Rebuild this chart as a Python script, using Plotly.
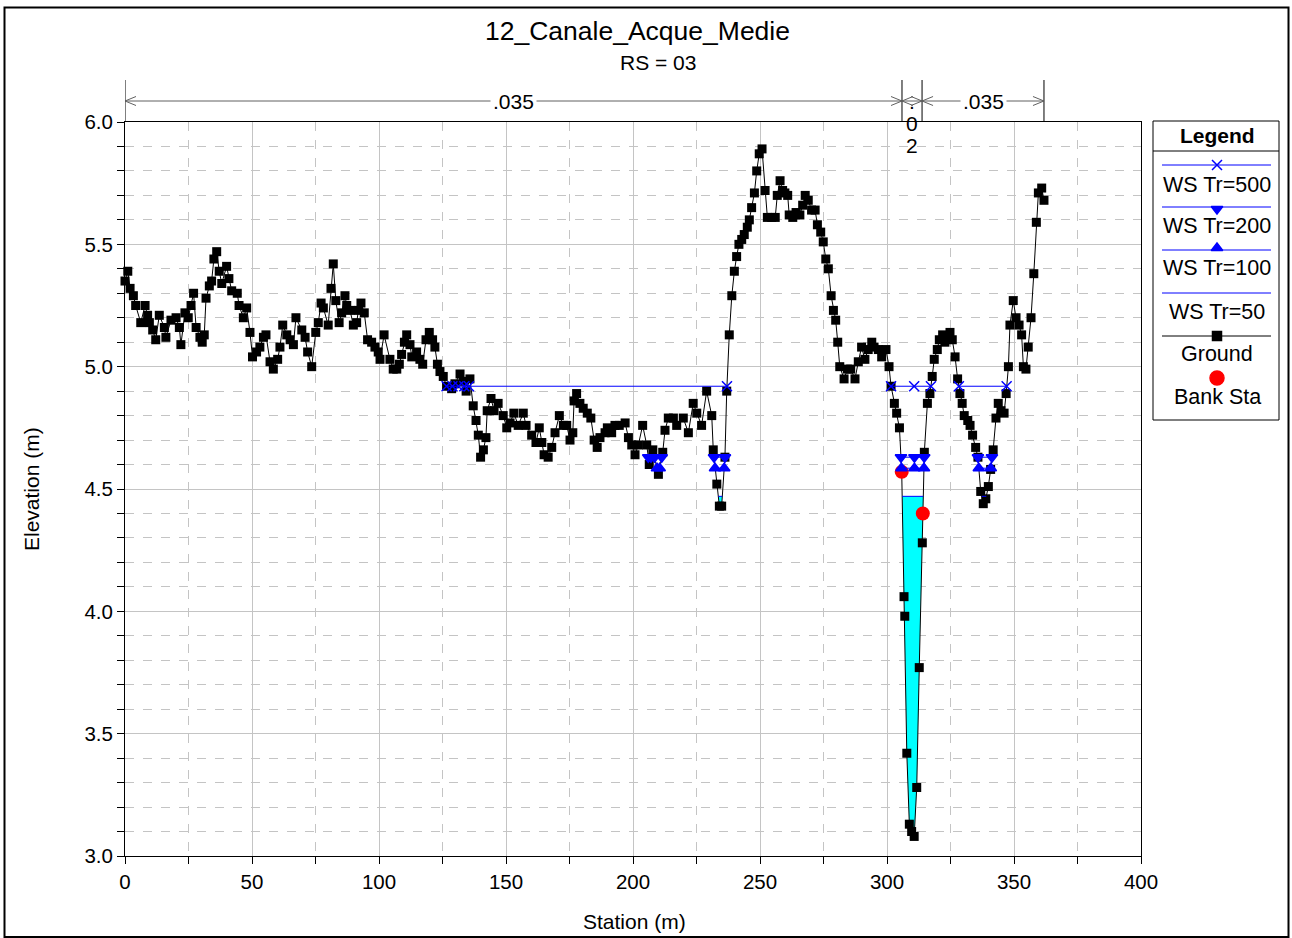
import plotly.graph_objects as go

# ---------------- data ----------------
station = [
    0.0, 1.1, 2.0, 3.3, 4.2, 6.2, 7.9, 8.9, 9.6, 10.9, 12.1, 13.5, 15.5, 16.1, 18.1, 20.1, 21.4, 22.0,
    23.6, 24.9, 26.0, 27.0, 28.0, 29.5, 30.4, 31.2, 31.9, 33.2, 34.1, 35.0, 36.1, 37.1, 38.1, 40.0,
    40.9, 42.0, 44.2, 44.9, 46.6, 47.9, 49.2, 50.2,
    51.8, 53.1, 54.5, 55.5, 57.1, 58.4, 60.1, 61.0, 62.1, 63.7, 65.0, 66.3, 67.3, 69.6, 70.9, 71.9,
    73.5, 75.1, 76.1, 77.2, 78.1, 80.0, 81.1, 82.0, 83.0, 84.3, 85.3, 86.6, 87.3, 88.6, 89.9, 91.2,
    91.9, 92.9, 94.2, 95.5, 97.1, 98.4, 99.7, 100.4, 102.0,
    104.3, 105.6, 107.0, 108.0, 108.9, 110.0, 110.9, 112.2, 112.9, 114.8, 116.1, 117.2, 118.5, 119.8,
    121.1, 122.0, 123.0, 124.0, 125.3, 126.6, 128.6, 129.9, 131.9, 133.2, 134.3, 135.8, 137.1, 138.2,
    139.1, 140.0, 141.1, 142.1, 142.6, 144.1, 145.3, 146.9, 148.9, 150.3,
    151.6, 153.1, 154.8, 156.8, 157.9, 160.1, 161.8, 163.1, 164.1, 165.0, 166.6, 168.0, 169.3, 171.0,
    172.6, 173.9, 175.2, 176.3, 176.8, 177.8, 179.1, 180.4, 182.0, 183.4, 184.7, 185.9, 187.0, 189.0,
    189.9, 191.6, 192.9, 194.6, 196.9, 198.2, 199.5, 200.8, 202.1, 203.8, 205.4, 206.4, 207.8, 210.0,
    211.7, 212.6, 213.9, 215.9, 217.2,
    219.8, 221.8, 223.7, 225.1, 227.0, 229.0, 231.0, 231.6, 233.0, 234.0, 234.9, 236.2, 236.9,
    237.9, 238.9, 239.9, 240.8, 241.7, 242.8, 243.8, 245.0, 245.8, 246.7, 247.8, 248.7, 249.7, 250.8,
    252.0, 252.9, 254.6, 256.0, 256.8, 257.9, 258.9, 259.8, 260.9, 261.5, 262.9, 264.2, 265.7, 266.8,
    267.8, 269.0, 270.3, 271.7, 272.6, 273.9, 274.9, 275.9, 276.9, 278.0, 278.9, 279.8, 280.6,
    281.4, 283.1, 284.4, 285.7, 287.4, 288.7, 290.0, 291.3, 292.6, 294.0, 294.9, 296.6, 297.9, 299.6,
    300.8, 301.6, 302.9, 303.8, 304.9, 305.8, 306.7, 307.0, 307.8, 308.8, 309.7, 310.7, 311.7, 312.7,
    313.9, 314.1, 314.7,
    315.9, 316.9, 317.8, 318.6, 319.8, 320.6, 321.9, 322.8, 323.7, 324.8, 325.7, 326.8, 327.8, 328.7,
    329.6, 330.4, 331.8, 332.7, 333.7, 334.9, 335.8, 336.9, 337.9, 338.9, 339.9, 340.8, 341.8, 342.9,
    343.8, 344.9, 346.1, 346.9, 347.8, 348.4, 349.7, 350.8, 352.0, 353.0, 353.7, 354.7, 355.6, 356.7,
    357.8, 358.8, 359.6, 360.9, 361.8,
]
elevation = [
    5.35, 5.39, 5.32, 5.29, 5.25, 5.18, 5.25, 5.21, 5.18, 5.15, 5.11, 5.21, 5.16, 5.12, 5.19, 5.20, 5.16, 5.09,
    5.22, 5.20, 5.25, 5.30, 5.16, 5.12, 5.10, 5.13, 5.28, 5.33, 5.35, 5.44, 5.47, 5.39, 5.34, 5.41,
    5.36, 5.31, 5.30, 5.25, 5.20, 5.24, 5.14, 5.04,
    5.06, 5.08, 5.12, 5.13, 5.02, 4.99, 5.03, 5.08, 5.17, 5.13, 5.11, 5.09, 5.20, 5.15, 5.12, 5.06,
    5.00, 5.14, 5.18, 5.26, 5.24, 5.17, 5.32, 5.42, 5.27, 5.18, 5.22, 5.29, 5.25, 5.23, 5.17, 5.18,
    5.23, 5.26, 5.22, 5.11, 5.10, 5.08, 5.06, 5.03, 5.13,
    5.03, 4.99, 4.99, 5.01, 5.05, 5.10, 5.13, 5.09, 5.04, 5.06, 5.03, 5.01, 5.11, 5.14,
    5.11, 5.08, 5.01, 4.98, 4.96, 4.92, 4.91, 4.93, 4.97, 4.94, 4.90, 4.95, 4.84, 4.78,
    4.72, 4.63, 4.66, 4.71, 4.82, 4.87, 4.82, 4.85, 4.80, 4.75,
    4.77, 4.81, 4.76, 4.81, 4.76, 4.72, 4.69, 4.75, 4.69, 4.64, 4.63, 4.67, 4.73, 4.80,
    4.76, 4.76, 4.70, 4.73, 4.86, 4.89, 4.85, 4.83, 4.81, 4.79, 4.70, 4.67, 4.71, 4.73,
    4.75, 4.73, 4.76, 4.76, 4.77, 4.71, 4.68, 4.64, 4.68, 4.76, 4.68, 4.60, 4.66, 4.56,
    4.65, 4.74, 4.79, 4.79, 4.76,
    4.79, 4.73, 4.85, 4.81, 4.76, 4.90, 4.80, 4.66, 4.52, 4.43, 4.43, 4.63, 4.90,
    5.13, 5.29, 5.39, 5.45, 5.50, 5.52, 5.54, 5.57, 5.60, 5.65, 5.71, 5.80, 5.87, 5.89,
    5.72, 5.61, 5.61, 5.61, 5.70, 5.76, 5.72, 5.71, 5.70, 5.62, 5.61, 5.63, 5.62, 5.66,
    5.70, 5.68, 5.64, 5.64, 5.58, 5.55, 5.51, 5.44, 5.40, 5.29, 5.23, 5.19, 5.10,
    5.00, 4.95, 4.99, 4.99, 4.95, 5.02, 5.08, 5.03, 5.07, 5.10, 5.08, 5.07, 5.04, 5.07,
    5.00, 4.92, 4.85, 4.81, 4.75, 4.57, 4.06, 3.98, 3.42, 3.13, 3.10, 3.08, 3.28, 3.77,
    4.28, 4.40, 4.65,
    4.85, 4.89, 4.96, 5.03, 5.07, 5.11, 5.13, 5.10, 5.12, 5.14, 5.11, 5.04, 4.95, 4.89,
    4.85, 4.80, 4.78, 4.76, 4.72, 4.67, 4.63, 4.49, 4.44, 4.46, 4.51, 4.58, 4.66, 4.79,
    4.85, 4.82, 4.81, 4.89, 5.00, 5.17, 5.27, 5.20, 5.17, 5.13, 5.00, 4.99, 5.08, 5.20,
    5.38, 5.59, 5.71, 5.73, 5.68,
]

bank_station = [305.8, 314.1]
bank_elevation = [4.57, 4.40]

n_stations = [0.0, 305.9, 313.8, 361.8]
n_values = [".035", ".02", ".035"]

ws500_level = 4.92
ws500_start = [126.5, 301.6, 328.3]
ws500_end = [237.0, 317.3, 347.1]
ws500_marks = [126.6, 128.9, 131.3, 133.6, 135.4, 237.0, 301.6, 310.7, 317.3, 328.3, 347.1]

ws200_level = 4.63
ws200_start = [206.0, 208.5, 231.9, 305.5, 335.8]
ws200_end = [207.1, 211.3, 236.2, 314.65, 341.3]
ws200_marks = [206.0, 207.1, 208.5, 211.3, 231.9, 236.2, 305.5, 310.8, 314.65, 335.8, 341.3]

ws100_level = 4.585
ws100_start = [209.45, 232.3, 305.7, 336.15]
ws100_end = [210.5, 235.9, 314.55, 340.85]
ws100_marks = [209.45, 210.5, 232.3, 235.9, 305.7, 310.8, 314.55, 336.15, 340.85]

ws50_level = 4.47

x_ticks = [0, 50, 100, 150, 200, 250, 300, 350, 400]
y_ticks = [3.0, 3.5, 4.0, 4.5, 5.0, 5.5, 6.0]

title_text = "12_Canale_Acque_Medie"
subtitle_text = "RS = 03"
x_title = "Station (m)"
y_title = "Elevation (m)"
legend_title = "Legend"
legend_labels = ["WS Tr=500", "WS Tr=200", "WS Tr=100", "WS Tr=50", "Ground", "Bank Sta"]

# ---------------- geometry ----------------
W, H = 1292, 938
PX0, PX1, PY0, PY1 = 125, 1141, 122, 856
XMIN, XMAX, YMIN, YMAX = 0, 400, 3.0, 6.0
xscale = (PX1 - PX0) / (XMAX - XMIN)  # pixels per metre

FONT = "Liberation Sans, Arial, Helvetica, sans-serif"
BLUE = "#0000FF"
GRID = "#c4c4c4"


def seg_xy(starts, ends, level):
    xs, ys = [], []
    for a, b in zip(starts, ends):
        xs += [a, b, None]
        ys += [level, level, None]
    return xs, ys


def wet_polygons(xs, ys, level):
    polys, cur = [], None
    for i in range(len(xs)):
        x, y = xs[i], ys[i]
        if y < level:
            if cur is None:
                if i > 0:
                    x0, y0 = xs[i - 1], ys[i - 1]
                    xi = x0 + (level - y0) * (x - x0) / (y - y0)
                else:
                    xi = x
                cur = [(xi, level)]
            cur.append((x, y))
        elif cur is not None:
            x0, y0 = xs[i - 1], ys[i - 1]
            xi = x0 + (level - y0) * (x - x0) / (y - y0)
            cur.append((xi, level))
            polys.append(cur)
            cur = None
    return polys


fig = go.Figure()

# Tr=50 fill
polys = wet_polygons(station, elevation, ws50_level)
fx, fy, lx, ly = [], [], [], []
for p in polys:
    fx += [q[0] for q in p] + [p[0][0], None]
    fy += [q[1] for q in p] + [p[0][1], None]
    lx += [p[0][0], p[-1][0], None]
    ly += [ws50_level, ws50_level, None]
fig.add_trace(go.Scatter(x=fx, y=fy, mode="lines", fill="toself", fillcolor="#00FFFF",
                         line=dict(width=0, color="#00FFFF"), hoverinfo="skip", showlegend=False))

# Ground
fig.add_trace(go.Scatter(x=station, y=elevation, mode="lines+markers",
                         line=dict(color="black", width=1),
                         marker=dict(symbol="square", size=9, color="black"),
                         cliponaxis=False, showlegend=False, name="Ground"))
# Bank stations
fig.add_trace(go.Scatter(x=bank_station, y=bank_elevation, mode="markers",
                         marker=dict(symbol="circle", size=14, color="#FF0000"),
                         showlegend=False, name="Bank Sta"))

# WS lines
for starts, ends, level, marks, sym in [
    (ws500_start, ws500_end, ws500_level, ws500_marks, "x-thin-open"),
    (ws200_start, ws200_end, ws200_level, ws200_marks, "triangle-down"),
    (ws100_start, ws100_end, ws100_level, ws100_marks, "triangle-up"),
]:
    sx, sy = seg_xy(starts, ends, level)
    fig.add_trace(go.Scatter(x=sx, y=sy, mode="lines", line=dict(color=BLUE, width=1),
                             showlegend=False, hoverinfo="skip"))
    fig.add_trace(go.Scatter(x=marks, y=[level] * len(marks), mode="markers",
                             marker=dict(symbol=sym, size=10, color=BLUE,
                                         line=dict(color=BLUE, width=1.5)),
                             showlegend=False))
fig.add_trace(go.Scatter(x=lx, y=ly, mode="lines", line=dict(color=BLUE, width=1),
                         showlegend=False, hoverinfo="skip"))

# ---------------- custom legend (pixel overlay axes) ----------------
LX0, LX1, LXC = 1162, 1271, 1217
leg_line_y = [165, 207, 250, 293, 336, 378]
leg_text_y = [185, 226, 268, 312, 354, 397]
leg_syms = ["x-thin-open", "triangle-down", "triangle-up", None, "square", "circle"]
leg_colors = [BLUE, BLUE, BLUE, BLUE, "black", "#FF0000"]
leg_sym_dy = [0, 2, -2, 0, 0, 0]
for i, lab in enumerate(legend_labels):
    if i < 5:
        fig.add_trace(go.Scatter(x=[LX0, LX1], y=[leg_line_y[i]] * 2, mode="lines",
                                 line=dict(color=leg_colors[i], width=1),
                                 xaxis="x2", yaxis="y2", showlegend=False, hoverinfo="skip"))
    if leg_syms[i]:
        size = 14 if leg_syms[i] == "circle" else (9 if leg_syms[i] == "square" else 10)
        fig.add_trace(go.Scatter(x=[LXC], y=[leg_line_y[i] + leg_sym_dy[i]], mode="markers",
                                 marker=dict(symbol=leg_syms[i], size=size, color=leg_colors[i],
                                             line=dict(color=leg_colors[i], width=1.5)),
                                 xaxis="x2", yaxis="y2", showlegend=False, hoverinfo="skip"))

annotations = []
shapes = []


def px_ann(x, y, text, size=20, bold=False, **kw):
    annotations.append(dict(x=x, y=y, xref="x2", yref="y2", text=("<b>%s</b>" % text) if bold else text,
                            showarrow=False, xanchor="center", yanchor="middle",
                            font=dict(family=FONT, size=size, color="black"), **kw))


for i, lab in enumerate(legend_labels):
    px_ann(LXC, leg_text_y[i], lab, size=21.5)
px_ann(LXC, 135, legend_title, size=21, bold=True)
shapes.append(dict(type="rect", xref="x2", yref="y2", x0=1153, x1=1279, y0=121, y1=420,
                   line=dict(color="black", width=1)))
shapes.append(dict(type="line", xref="x2", yref="y2", x0=1153, x1=1279, y0=151, y1=151,
                   line=dict(color="black", width=1)))

# titles
px_ann(637, 31, title_text, size=26.5)
px_ann(658, 62, subtitle_text, size=21)
px_ann(634, 921, x_title, size=21)
px_ann(31, (PY0 + PY1) / 2, y_title, size=21, textangle=-90)

# outer frame
shapes.append(dict(type="rect", xref="x2", yref="y2", x0=4.5, x1=1288.5, y0=7.5, y1=937,
                   line=dict(color="black", width=2)))

# ---------------- Manning's n dimension lines ----------------
DIM_Y, TICK_TOP = 101, 80
chev_d = 11 / xscale
chev_h = 4.5
shapes.append(dict(type="line", xref="x", yref="y2", x0=n_stations[0], x1=n_stations[-1],
                   y0=DIM_Y, y1=DIM_Y, line=dict(color="#606060", width=1)))
for s in n_stations:
    shapes.append(dict(type="line", xref="x", yref="y2", x0=s, x1=s, y0=TICK_TOP, y1=PY0,
                       line=dict(color="black", width=1)))
for i, val in enumerate(n_values):
    a, b = n_stations[i], n_stations[i + 1]
    shapes.append(dict(type="path", xref="x", yref="y2",
                       path="M %f %f L %f %f L %f %f" % (a + chev_d, DIM_Y - chev_h, a, DIM_Y,
                                                         a + chev_d, DIM_Y + chev_h),
                       line=dict(color="#606060", width=1)))
    shapes.append(dict(type="path", xref="x", yref="y2",
                       path="M %f %f L %f %f L %f %f" % (b - chev_d, DIM_Y - chev_h, b, DIM_Y,
                                                         b - chev_d, DIM_Y + chev_h),
                       line=dict(color="#606060", width=1)))
    mid = (a + b) / 2
    if (b - a) * xscale > 60:
        annotations.append(dict(x=mid, y=DIM_Y, xref="x", yref="y2", text=val, showarrow=False,
                                xanchor="center", yanchor="middle", bgcolor="white", borderpad=2,
                                font=dict(family=FONT, size=21, color="black")))
    else:
        for k, ch in enumerate(val):
            annotations.append(dict(x=mid, y=DIM_Y + k * 22, xref="x", yref="y2", text=ch,
                                    showarrow=False, xanchor="center", yanchor="middle",
                                    font=dict(family=FONT, size=21, color="black")))

axis_common = dict(showline=True, linecolor="black", linewidth=1, mirror=True,
                   ticks="outside", ticklen=7, tickcolor="black", tickwidth=1,
                   showgrid=True, gridcolor=GRID, gridwidth=1, zeroline=False, automargin=False,
                   tickfont=dict(family=FONT, size=20.5, color="black"))

fig.update_layout(
    width=W, height=H, autosize=False,
    margin=dict(l=0, r=0, t=0, b=0, pad=0, autoexpand=False),
    paper_bgcolor="white", plot_bgcolor="rgba(0,0,0,0)",
    showlegend=False,
    xaxis=dict(domain=[PX0 / W, PX1 / W], range=[XMIN, XMAX], tickvals=x_ticks,
               minor=dict(dtick=25, tick0=0, ticks="outside", ticklen=7, tickcolor="black",
                          showgrid=True, gridcolor=GRID, griddash="dash"),
               anchor="y", **axis_common),
    yaxis=dict(domain=[(H - PY1) / H, (H - PY0) / H], range=[YMIN, YMAX], tickvals=y_ticks,
               tickformat=".1f",
               minor=dict(dtick=0.1, tick0=0, ticks="outside", ticklen=7, tickcolor="black",
                          showgrid=True, gridcolor=GRID, griddash="dash"),
               anchor="x", **axis_common),
    xaxis2=dict(domain=[0, 1], range=[0, W], visible=False, anchor="y2", fixedrange=True,
                automargin=False),
    yaxis2=dict(domain=[0, 1], range=[H, 0], visible=False, anchor="x2", fixedrange=True,
                automargin=False),
    annotations=annotations,
    shapes=shapes,
)

fig.write_html("out.html", config={"displayModeBar": False},
               post_script="document.body.style.margin='0px';document.body.style.overflow='hidden';")
